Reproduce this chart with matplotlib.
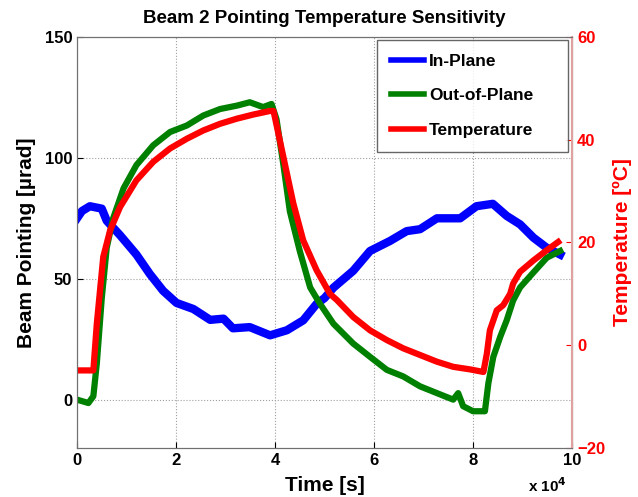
import matplotlib
matplotlib.use("Agg")
import matplotlib.pyplot as plt

plt.rcParams['font.family'] = ['Liberation Sans', 'DejaVu Sans']
plt.rcParams['font.weight'] = 'bold'

# time in units of 1e4 s
t_in = [0.0, 0.1, 0.26, 0.5, 0.6, 0.87, 1.2, 1.47, 1.74, 2.01, 2.35, 2.69, 2.96, 3.15, 3.49, 3.9,
        4.24, 4.57, 4.84, 5.0, 5.18, 5.58, 5.92, 6.32, 6.66, 6.93, 7.27, 7.74, 8.07, 8.4, 8.68,
        8.95, 9.22, 9.49, 9.76]
in_plane = [75, 78, 80, 79, 74, 68, 60, 52, 45, 40, 37.5, 33, 33.5, 29.5, 30, 26.6,
            28.7, 32.8, 39.6, 42, 46.3, 53.3, 61.5, 65.6, 69.7, 70.5, 75, 75, 80, 81, 76,
            72.5, 67, 62.8, 60]

t_out = [0.0, 0.23, 0.33, 0.4, 0.5, 0.6, 0.73, 0.94, 1.2, 1.54, 1.88, 2.22, 2.55, 2.89, 3.23,
         3.49, 3.76, 3.93, 4.03, 4.17, 4.3, 4.5, 4.71, 4.91, 5.18, 5.58, 5.92, 6.26, 6.59, 6.93,
         7.27, 7.6, 7.7, 7.8, 8.0, 8.24, 8.31, 8.41, 8.55, 8.68, 8.81, 8.95, 9.22, 9.49, 9.76]
out_plane = [0, -1.4, 1.4, 15, 42, 62.8, 75, 87.4, 97, 105.2, 110.7, 113.4, 117.5, 120.2, 121.6,
             123, 121, 122.3, 116, 97, 77.9, 61.5, 46.4, 39.6, 31.4, 23.2, 17.7, 12.3, 9.6, 5.5,
             2.7, 0, 2.7, -2.7, -4.8, -4.8, 6.8, 17.7, 26, 32.8, 41, 46.4, 52.6, 58.7, 61.5]

t_temp = [0.0, 0.33, 0.4, 0.53, 0.67, 0.87, 1.2, 1.54, 1.88, 2.22, 2.55, 2.89, 3.23, 3.56, 3.9,
          3.97, 4.17, 4.37, 4.57, 4.84, 5.11, 5.25, 5.58, 5.92, 6.26, 6.59, 6.93, 7.27, 7.6,
          7.94, 8.21, 8.28, 8.34, 8.48, 8.61, 8.75, 8.81, 8.95, 9.22, 9.49, 9.72]
temperature = [-4.9, -4.9, 4.2, 17.2, 22.4, 26.9, 32.1, 35.7, 38.3, 40.2, 41.8, 43.1, 44.1, 44.9, 45.6,
               45.6, 36.6, 27.6, 20.4, 14.6, 10, 8.8, 5.5, 2.9, 1, -0.6, -1.9, -3.2, -4.2,
               -4.7, -5.2, -1.6, 2.9, 6.8, 7.8, 10, 12, 14.3, 16.5, 18.5, 20.1]

x_ticks = [0, 2, 4, 6, 8, 10]
left_ticks = [0, 50, 100, 150]
right_ticks = [-20, 0, 20, 40, 60]

fig = plt.figure(figsize=(6.38, 4.97), dpi=100)
ax = fig.add_axes([0.1207, 0.0986, 0.7759, 0.827])
ax2 = ax.twinx()

l1, = ax.plot(t_in, in_plane, color='#0000ff', lw=6, label='In-Plane', solid_joinstyle='round')
l2, = ax.plot(t_out, out_plane, color='#008000', lw=4.5, label='Out-of-Plane', solid_joinstyle='round')
l3, = ax2.plot(t_temp, temperature, color='#ff0000', lw=4.5, label='Temperature', solid_joinstyle='round')

ax.set_xlim(0, 10)
ax.set_ylim(-20, 150)
ax2.set_ylim(-20, 60)
ax.set_xticks(x_ticks)
ax.set_yticks(left_ticks)
ax2.set_yticks(right_ticks)

ax.grid(True, linestyle=':', color='#a0a0a0', lw=0.8)
ax.tick_params(labelsize=12, direction='in', length=4)
ax2.tick_params(labelsize=12, direction='in', length=4, colors='#ff0000')
for lab in ax.get_xticklabels() + ax.get_yticklabels() + ax2.get_yticklabels():
    lab.set_fontweight('bold')

for s in ['left', 'top', 'bottom']:
    ax.spines[s].set_color('#707070')
ax2.spines['right'].set_color('#e0a0a0')
ax2.spines['right'].set_linewidth(1.5)
ax2.spines['left'].set_color('#707070')
ax2.spines['top'].set_color('#707070')
ax2.spines['bottom'].set_color('#707070')

ax.set_title('Beam 2 Pointing Temperature Sensitivity', fontsize=13.5, fontweight='bold', pad=10)
ax.set_xlabel('Time [s]', fontsize=15, fontweight='bold', labelpad=6)
ax.set_ylabel('Beam Pointing [µrad]', fontsize=15, fontweight='bold', labelpad=6)
ax2.set_ylabel('Temperature [ºC]', fontsize=15, fontweight='bold', color='#ff0000', labelpad=6)
ax.text(0.99, -0.107, r'x 10$^{4}$', transform=ax.transAxes, ha='right', va='baseline',
        fontsize=11, fontweight='bold')

leg = ax2.legend(handles=[l1, l2, l3], loc='upper left', mode='expand',
                 prop={'weight': 'bold', 'size': 12.5}, frameon=True, fancybox=False,
                 edgecolor='#404040', handlelength=1.9, handletextpad=0.3, labelspacing=1.12,
                 borderpad=0.8, bbox_to_anchor=(0.606, 0.5, 0.386, 0.493), borderaxespad=0)
leg.get_frame().set_linewidth(1.0)
for line in leg.get_lines():
    line.set_linewidth(4)

fig.savefig('out.png', dpi=100)
